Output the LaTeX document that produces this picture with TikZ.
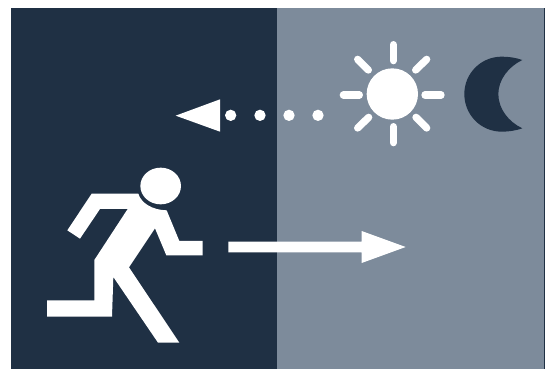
\documentclass[tikz,border=0pt]{standalone}
\definecolor{darkpane}{HTML}{1F3044}
\definecolor{greypane}{HTML}{7D8B9B}
\tikzset{
  pane/.style={fill=#1,draw=none},
  glyph/.style={fill=white,draw=none},
  ray/.style={draw=white,line width=7.3pt,line cap=round},
  zoomA/.style={xshift=30pt,yshift=-150pt,x=0.33333pt,y=-0.33333pt},
  zoomB/.style={xshift=330pt,yshift=-30pt,x=0.33333pt,y=-0.33333pt},
  zoomC/.style={xshift=165pt,yshift=-90pt,x=0.33333pt,y=-0.33333pt},
  zoomD/.style={xshift=220pt,yshift=-220pt,x=0.33333pt,y=-0.33333pt}
}
\begin{document}
\begin{tikzpicture}[x=1pt,y=-1pt]
\useasboundingbox (0,0) rectangle (552,369);
\fill[pane=darkpane] (11,8) rectangle (545,369);
\fill[pane=greypane] (277,8) rectangle (544,369);
% runner
\begin{scope}[zoomA]
\fill[glyph] (392,108) ellipse [x radius=61,y radius=55];
\fill[glyph] (185,131) -- (325,131) .. controls (333,158) and (365,180) .. (410,181)
  -- (448,273) -- (518,273) -- (518,316) -- (409,316) -- (375,235) -- (297,352)
  -- (448,578) -- (384,578) -- (250,381) -- (246,500) -- (51,500) -- (51,451)
  -- (193,451) -- (193,330) -- (293,177) -- (210,177) -- (150,266) -- (112,241) -- cycle;
\end{scope}
% right arrow
\begin{scope}[zoomD]
\fill[glyph] (25,65) -- (425,65) -- (425,33) -- (557,81) -- (425,129) -- (425,97) -- (25,97) -- cycle;
\end{scope}
% left arrow with dots
\begin{scope}[zoomC]
\fill[glyph] (32,77) -- (165,28) -- (165,125) -- cycle;
\foreach \dx in {197,285,372,459} \fill[glyph] (\dx,76) circle [radius=17];
\end{scope}
% sun and moon
\begin{scope}[zoomB]
\fill[glyph] (187,192) circle [radius=77];
\draw[ray] (190,44) -- (190,92);
\draw[ray] (190,290) -- (190,338);
\draw[ray] (40,195) -- (88,195);
\draw[ray] (285,195) -- (333,195);
\draw[ray] (83,88) -- (115,120);
\draw[ray] (290,88) -- (257,120);
\draw[ray] (83,294) -- (116,262);
\draw[ray] (290,294) -- (258,262);
\fill[darkpane] (577,90) .. controls (557,83) and (536,80) .. (515,80)
  .. controls (453,80) and (403,130) .. (403,192)
  .. controls (403,255) and (453,305) .. (515,305)
  .. controls (536,305) and (557,302) .. (577,295)
  .. controls (535,275) and (505,236) .. (505,192)
  .. controls (505,150) and (535,110) .. (577,90) -- cycle;
\end{scope}
\end{tikzpicture}
\end{document}
